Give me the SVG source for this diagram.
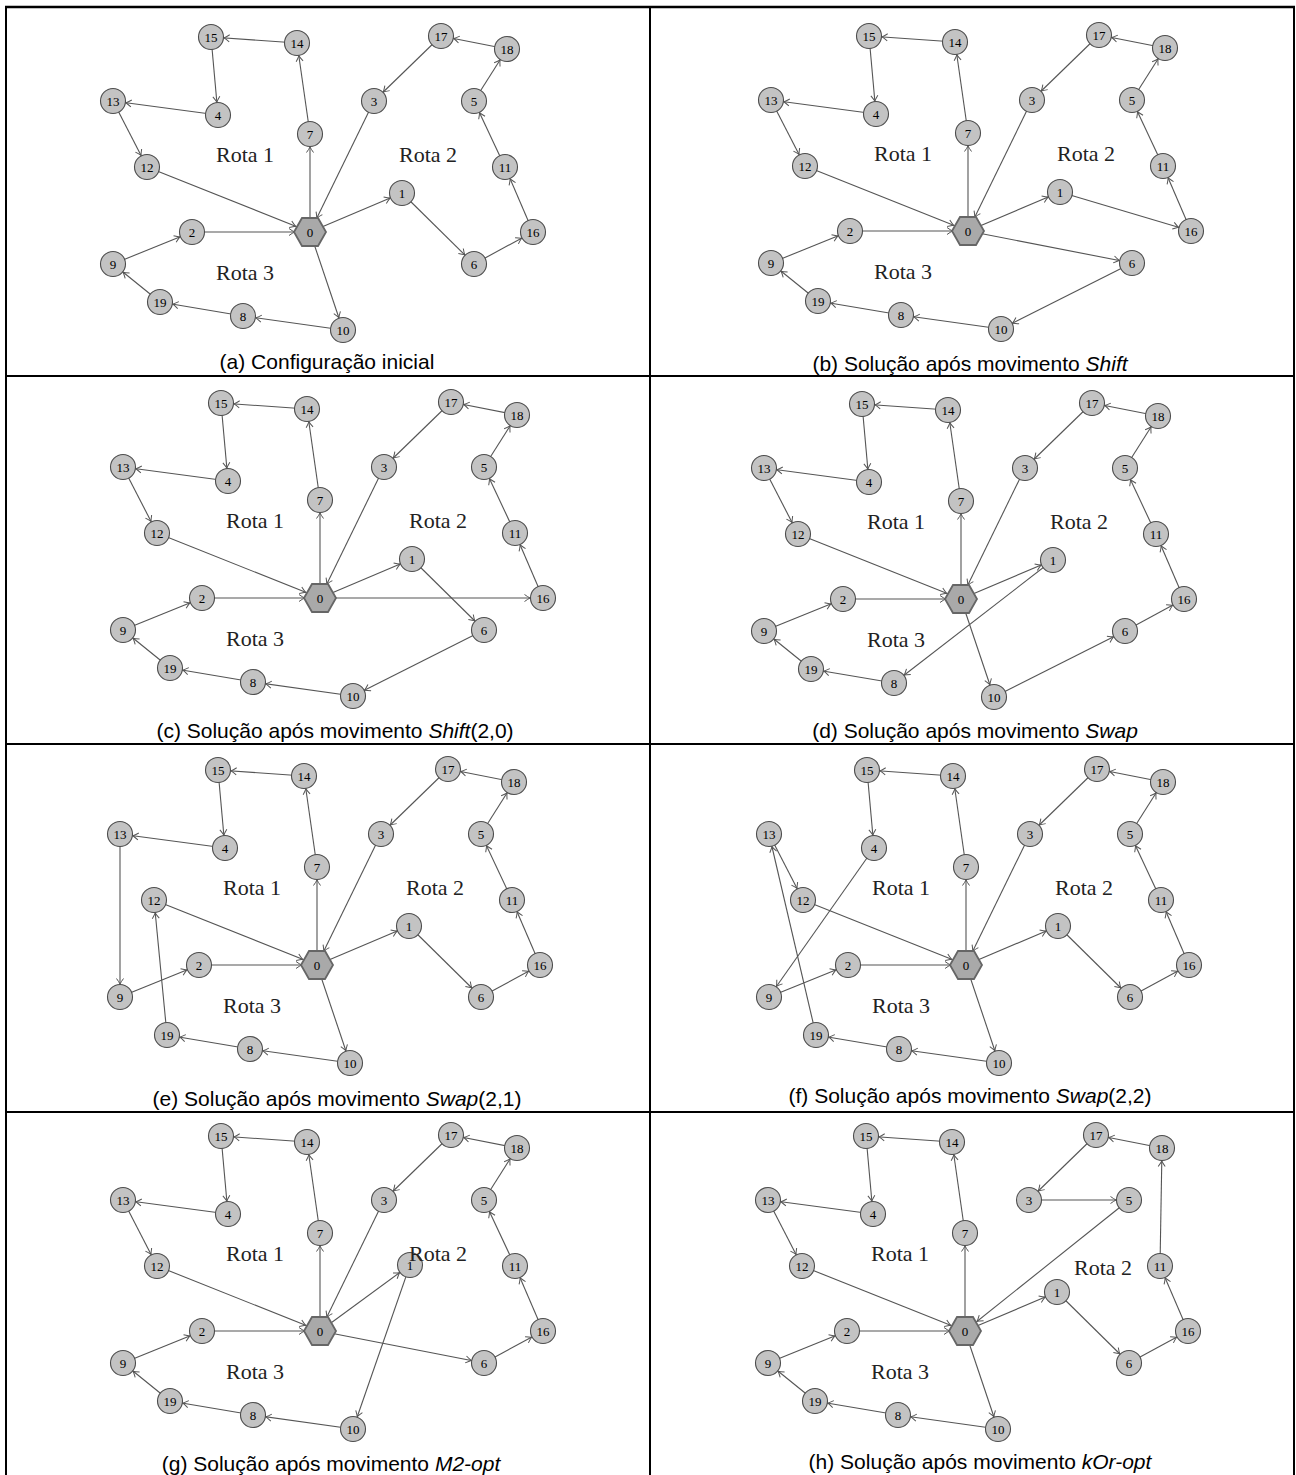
<svg xmlns="http://www.w3.org/2000/svg" width="1296" height="1475" viewBox="0 0 1296 1475">
<style>
.edges line{stroke:#555;stroke-width:1.1;marker-end:url(#arr)}
.edges line.h{marker-end:url(#arrh)}
.node circle{fill:#c3c3c3;stroke:#4d4d4d;stroke-width:1.1}
.depot polygon{fill:#a9a9a9;stroke:#666;stroke-width:1.8}
.node text,.depot text{font-family:"Liberation Serif","DejaVu Serif",serif;font-size:13px;text-anchor:middle;fill:#000}
.rota{font-family:"Liberation Serif","DejaVu Serif",serif;font-size:22px;text-anchor:middle;fill:#222}
.cap{font-family:"Liberation Sans",Arial,sans-serif;font-size:21px;text-anchor:middle;fill:#000}
.frame line{stroke:#000;stroke-width:2}
</style>
<defs>
<marker id="arr" markerUnits="userSpaceOnUse" markerWidth="20" markerHeight="20" refX="13" refY="0" orient="auto" overflow="visible"><path d="M-5.5,-3.5 Q-2,-1 0,0 Q-2,1 -5.5,3.5" fill="none" stroke="#555" stroke-width="1"/></marker>
<marker id="arrh" markerUnits="userSpaceOnUse" markerWidth="20" markerHeight="20" refX="15.5" refY="0" orient="auto" overflow="visible"><path d="M-5.5,-3.5 Q-2,-1 0,0 Q-2,1 -5.5,3.5" fill="none" stroke="#555" stroke-width="1"/></marker>
</defs>
<rect width="1296" height="1475" fill="#fff"/>
<g class="frame">
<line x1="5" y1="7" x2="1295" y2="7" style="stroke-width:2.5"/>
<line x1="6" y1="6" x2="6" y2="1475"/>
<line x1="1294" y1="6" x2="1294" y2="1475"/>
<line x1="650" y1="7" x2="650" y2="1475"/>
<line x1="6" y1="376" x2="1294" y2="376"/>
<line x1="6" y1="744" x2="1294" y2="744"/>
<line x1="6" y1="1112" x2="1294" y2="1112"/>
</g>

<!-- Panel a -->
<g id="panel-a">
<g id="a-edges" class="edges">
<line x1="310" y1="232" x2="310" y2="134"/><line x1="310" y1="134" x2="297" y2="43"/><line x1="297" y1="43" x2="211" y2="37"/><line x1="211" y1="37" x2="218" y2="115"/><line x1="218" y1="115" x2="113" y2="101"/><line x1="113" y1="101" x2="147" y2="167"/><line class="h" x1="147" y1="167" x2="310" y2="232"/>
<line x1="310" y1="232" x2="402" y2="193"/><line x1="402" y1="193" x2="474" y2="264"/><line x1="474" y1="264" x2="533" y2="232"/>
<line x1="533" y1="232" x2="505" y2="167"/><line x1="505" y1="167" x2="474" y2="101"/><line x1="474" y1="101" x2="507" y2="49"/><line x1="507" y1="49" x2="441" y2="36"/><line x1="441" y1="36" x2="374" y2="101"/><line class="h" x1="374" y1="101" x2="310" y2="232"/>
<line x1="310" y1="232" x2="343" y2="330"/>
<line x1="343" y1="330" x2="243" y2="316"/><line x1="243" y1="316" x2="160" y2="302"/><line x1="160" y1="302" x2="113" y2="264"/><line x1="113" y1="264" x2="192" y2="232"/><line class="h" x1="192" y1="232" x2="310" y2="232"/>
</g>
<g id="a-n0" class="depot" transform="translate(310,232)"><polygon points="-16,0 -8,-14 8,-14 16,0 8,14 -8,14"/><text y="4.5">0</text></g>
<g id="a-n1" class="node" transform="translate(402,193)"><circle r="12.5"/><text y="4.5">1</text></g>
<g id="a-n2" class="node" transform="translate(192,232)"><circle r="12.5"/><text y="4.5">2</text></g>
<g id="a-n3" class="node" transform="translate(374,101)"><circle r="12.5"/><text y="4.5">3</text></g>
<g id="a-n4" class="node" transform="translate(218,115)"><circle r="12.5"/><text y="4.5">4</text></g>
<g id="a-n5" class="node" transform="translate(474,101)"><circle r="12.5"/><text y="4.5">5</text></g>
<g id="a-n6" class="node" transform="translate(474,264)"><circle r="12.5"/><text y="4.5">6</text></g>
<g id="a-n7" class="node" transform="translate(310,134)"><circle r="12.5"/><text y="4.5">7</text></g>
<g id="a-n8" class="node" transform="translate(243,316)"><circle r="12.5"/><text y="4.5">8</text></g>
<g id="a-n9" class="node" transform="translate(113,264)"><circle r="12.5"/><text y="4.5">9</text></g>
<g id="a-n10" class="node" transform="translate(343,330)"><circle r="12.5"/><text y="4.5">10</text></g>
<g id="a-n11" class="node" transform="translate(505,167)"><circle r="12.5"/><text y="4.5">11</text></g>
<g id="a-n12" class="node" transform="translate(147,167)"><circle r="12.5"/><text y="4.5">12</text></g>
<g id="a-n13" class="node" transform="translate(113,101)"><circle r="12.5"/><text y="4.5">13</text></g>
<g id="a-n14" class="node" transform="translate(297,43)"><circle r="12.5"/><text y="4.5">14</text></g>
<g id="a-n15" class="node" transform="translate(211,37)"><circle r="12.5"/><text y="4.5">15</text></g>
<g id="a-n16" class="node" transform="translate(533,232)"><circle r="12.5"/><text y="4.5">16</text></g>
<g id="a-n17" class="node" transform="translate(441,36)"><circle r="12.5"/><text y="4.5">17</text></g>
<g id="a-n18" class="node" transform="translate(507,49)"><circle r="12.5"/><text y="4.5">18</text></g>
<g id="a-n19" class="node" transform="translate(160,302)"><circle r="12.5"/><text y="4.5">19</text></g>
<text class="rota" x="245" y="162">Rota 1</text><text class="rota" x="428" y="162">Rota 2</text><text class="rota" x="245" y="280">Rota 3</text>
</g>
<text class="cap" x="327" y="369">(a) Configuração inicial</text>

<!-- Panel b -->
<g id="panel-b" transform="translate(658,-1)">
<g id="b-edges" class="edges">
<line x1="310" y1="232" x2="310" y2="134"/><line x1="310" y1="134" x2="297" y2="43"/><line x1="297" y1="43" x2="211" y2="37"/><line x1="211" y1="37" x2="218" y2="115"/><line x1="218" y1="115" x2="113" y2="101"/><line x1="113" y1="101" x2="147" y2="167"/><line class="h" x1="147" y1="167" x2="310" y2="232"/>
<line x1="310" y1="232" x2="402" y2="193"/><line x1="402" y1="193" x2="533" y2="232"/>
<line x1="533" y1="232" x2="505" y2="167"/><line x1="505" y1="167" x2="474" y2="101"/><line x1="474" y1="101" x2="507" y2="49"/><line x1="507" y1="49" x2="441" y2="36"/><line x1="441" y1="36" x2="374" y2="101"/><line class="h" x1="374" y1="101" x2="310" y2="232"/>
<line x1="310" y1="232" x2="474" y2="264"/><line x1="474" y1="264" x2="343" y2="330"/>
<line x1="343" y1="330" x2="243" y2="316"/><line x1="243" y1="316" x2="160" y2="302"/><line x1="160" y1="302" x2="113" y2="264"/><line x1="113" y1="264" x2="192" y2="232"/><line class="h" x1="192" y1="232" x2="310" y2="232"/>
</g>
<g id="b-n0" class="depot" transform="translate(310,232)"><polygon points="-16,0 -8,-14 8,-14 16,0 8,14 -8,14"/><text y="4.5">0</text></g>
<g id="b-n1" class="node" transform="translate(402,193)"><circle r="12.5"/><text y="4.5">1</text></g>
<g id="b-n2" class="node" transform="translate(192,232)"><circle r="12.5"/><text y="4.5">2</text></g>
<g id="b-n3" class="node" transform="translate(374,101)"><circle r="12.5"/><text y="4.5">3</text></g>
<g id="b-n4" class="node" transform="translate(218,115)"><circle r="12.5"/><text y="4.5">4</text></g>
<g id="b-n5" class="node" transform="translate(474,101)"><circle r="12.5"/><text y="4.5">5</text></g>
<g id="b-n6" class="node" transform="translate(474,264)"><circle r="12.5"/><text y="4.5">6</text></g>
<g id="b-n7" class="node" transform="translate(310,134)"><circle r="12.5"/><text y="4.5">7</text></g>
<g id="b-n8" class="node" transform="translate(243,316)"><circle r="12.5"/><text y="4.5">8</text></g>
<g id="b-n9" class="node" transform="translate(113,264)"><circle r="12.5"/><text y="4.5">9</text></g>
<g id="b-n10" class="node" transform="translate(343,330)"><circle r="12.5"/><text y="4.5">10</text></g>
<g id="b-n11" class="node" transform="translate(505,167)"><circle r="12.5"/><text y="4.5">11</text></g>
<g id="b-n12" class="node" transform="translate(147,167)"><circle r="12.5"/><text y="4.5">12</text></g>
<g id="b-n13" class="node" transform="translate(113,101)"><circle r="12.5"/><text y="4.5">13</text></g>
<g id="b-n14" class="node" transform="translate(297,43)"><circle r="12.5"/><text y="4.5">14</text></g>
<g id="b-n15" class="node" transform="translate(211,37)"><circle r="12.5"/><text y="4.5">15</text></g>
<g id="b-n16" class="node" transform="translate(533,232)"><circle r="12.5"/><text y="4.5">16</text></g>
<g id="b-n17" class="node" transform="translate(441,36)"><circle r="12.5"/><text y="4.5">17</text></g>
<g id="b-n18" class="node" transform="translate(507,49)"><circle r="12.5"/><text y="4.5">18</text></g>
<g id="b-n19" class="node" transform="translate(160,302)"><circle r="12.5"/><text y="4.5">19</text></g>
<text class="rota" x="245" y="162">Rota 1</text><text class="rota" x="428" y="162">Rota 2</text><text class="rota" x="245" y="280">Rota 3</text>
</g>
<text class="cap" x="970" y="371">(b) Solução após movimento <tspan font-style="italic">Shift</tspan></text>

<!-- Panel c -->
<g id="panel-c" transform="translate(10,366)">
<g id="c-edges" class="edges">
<line x1="310" y1="232" x2="310" y2="134"/><line x1="310" y1="134" x2="297" y2="43"/><line x1="297" y1="43" x2="211" y2="37"/><line x1="211" y1="37" x2="218" y2="115"/><line x1="218" y1="115" x2="113" y2="101"/><line x1="113" y1="101" x2="147" y2="167"/><line class="h" x1="147" y1="167" x2="310" y2="232"/>
<line x1="310" y1="232" x2="533" y2="232"/>
<line x1="533" y1="232" x2="505" y2="167"/><line x1="505" y1="167" x2="474" y2="101"/><line x1="474" y1="101" x2="507" y2="49"/><line x1="507" y1="49" x2="441" y2="36"/><line x1="441" y1="36" x2="374" y2="101"/><line class="h" x1="374" y1="101" x2="310" y2="232"/>
<line x1="310" y1="232" x2="402" y2="193"/><line x1="402" y1="193" x2="474" y2="264"/><line x1="474" y1="264" x2="343" y2="330"/>
<line x1="343" y1="330" x2="243" y2="316"/><line x1="243" y1="316" x2="160" y2="302"/><line x1="160" y1="302" x2="113" y2="264"/><line x1="113" y1="264" x2="192" y2="232"/><line class="h" x1="192" y1="232" x2="310" y2="232"/>
</g>
<g id="c-n0" class="depot" transform="translate(310,232)"><polygon points="-16,0 -8,-14 8,-14 16,0 8,14 -8,14"/><text y="4.5">0</text></g>
<g id="c-n1" class="node" transform="translate(402,193)"><circle r="12.5"/><text y="4.5">1</text></g>
<g id="c-n2" class="node" transform="translate(192,232)"><circle r="12.5"/><text y="4.5">2</text></g>
<g id="c-n3" class="node" transform="translate(374,101)"><circle r="12.5"/><text y="4.5">3</text></g>
<g id="c-n4" class="node" transform="translate(218,115)"><circle r="12.5"/><text y="4.5">4</text></g>
<g id="c-n5" class="node" transform="translate(474,101)"><circle r="12.5"/><text y="4.5">5</text></g>
<g id="c-n6" class="node" transform="translate(474,264)"><circle r="12.5"/><text y="4.5">6</text></g>
<g id="c-n7" class="node" transform="translate(310,134)"><circle r="12.5"/><text y="4.5">7</text></g>
<g id="c-n8" class="node" transform="translate(243,316)"><circle r="12.5"/><text y="4.5">8</text></g>
<g id="c-n9" class="node" transform="translate(113,264)"><circle r="12.5"/><text y="4.5">9</text></g>
<g id="c-n10" class="node" transform="translate(343,330)"><circle r="12.5"/><text y="4.5">10</text></g>
<g id="c-n11" class="node" transform="translate(505,167)"><circle r="12.5"/><text y="4.5">11</text></g>
<g id="c-n12" class="node" transform="translate(147,167)"><circle r="12.5"/><text y="4.5">12</text></g>
<g id="c-n13" class="node" transform="translate(113,101)"><circle r="12.5"/><text y="4.5">13</text></g>
<g id="c-n14" class="node" transform="translate(297,43)"><circle r="12.5"/><text y="4.5">14</text></g>
<g id="c-n15" class="node" transform="translate(211,37)"><circle r="12.5"/><text y="4.5">15</text></g>
<g id="c-n16" class="node" transform="translate(533,232)"><circle r="12.5"/><text y="4.5">16</text></g>
<g id="c-n17" class="node" transform="translate(441,36)"><circle r="12.5"/><text y="4.5">17</text></g>
<g id="c-n18" class="node" transform="translate(507,49)"><circle r="12.5"/><text y="4.5">18</text></g>
<g id="c-n19" class="node" transform="translate(160,302)"><circle r="12.5"/><text y="4.5">19</text></g>
<text class="rota" x="245" y="162">Rota 1</text><text class="rota" x="428" y="162">Rota 2</text><text class="rota" x="245" y="280">Rota 3</text>
</g>
<text class="cap" x="335" y="738">(c) Solução após movimento <tspan font-style="italic">Shift</tspan>(2,0)</text>

<!-- Panel d -->
<g id="panel-d" transform="translate(651,367)">
<g id="d-edges" class="edges">
<line x1="310" y1="232" x2="310" y2="134"/><line x1="310" y1="134" x2="297" y2="43"/><line x1="297" y1="43" x2="211" y2="37"/><line x1="211" y1="37" x2="218" y2="115"/><line x1="218" y1="115" x2="113" y2="101"/><line x1="113" y1="101" x2="147" y2="167"/><line class="h" x1="147" y1="167" x2="310" y2="232"/>
<line x1="310" y1="232" x2="343" y2="330"/><line x1="343" y1="330" x2="474" y2="264"/><line x1="474" y1="264" x2="533" y2="232"/>
<line x1="533" y1="232" x2="505" y2="167"/><line x1="505" y1="167" x2="474" y2="101"/><line x1="474" y1="101" x2="507" y2="49"/><line x1="507" y1="49" x2="441" y2="36"/><line x1="441" y1="36" x2="374" y2="101"/><line class="h" x1="374" y1="101" x2="310" y2="232"/>
<line x1="310" y1="232" x2="402" y2="193"/><line x1="402" y1="193" x2="243" y2="316"/>
<line x1="243" y1="316" x2="160" y2="302"/><line x1="160" y1="302" x2="113" y2="264"/><line x1="113" y1="264" x2="192" y2="232"/><line class="h" x1="192" y1="232" x2="310" y2="232"/>
</g>
<g id="d-n0" class="depot" transform="translate(310,232)"><polygon points="-16,0 -8,-14 8,-14 16,0 8,14 -8,14"/><text y="4.5">0</text></g>
<g id="d-n1" class="node" transform="translate(402,193)"><circle r="12.5"/><text y="4.5">1</text></g>
<g id="d-n2" class="node" transform="translate(192,232)"><circle r="12.5"/><text y="4.5">2</text></g>
<g id="d-n3" class="node" transform="translate(374,101)"><circle r="12.5"/><text y="4.5">3</text></g>
<g id="d-n4" class="node" transform="translate(218,115)"><circle r="12.5"/><text y="4.5">4</text></g>
<g id="d-n5" class="node" transform="translate(474,101)"><circle r="12.5"/><text y="4.5">5</text></g>
<g id="d-n6" class="node" transform="translate(474,264)"><circle r="12.5"/><text y="4.5">6</text></g>
<g id="d-n7" class="node" transform="translate(310,134)"><circle r="12.5"/><text y="4.5">7</text></g>
<g id="d-n8" class="node" transform="translate(243,316)"><circle r="12.5"/><text y="4.5">8</text></g>
<g id="d-n9" class="node" transform="translate(113,264)"><circle r="12.5"/><text y="4.5">9</text></g>
<g id="d-n10" class="node" transform="translate(343,330)"><circle r="12.5"/><text y="4.5">10</text></g>
<g id="d-n11" class="node" transform="translate(505,167)"><circle r="12.5"/><text y="4.5">11</text></g>
<g id="d-n12" class="node" transform="translate(147,167)"><circle r="12.5"/><text y="4.5">12</text></g>
<g id="d-n13" class="node" transform="translate(113,101)"><circle r="12.5"/><text y="4.5">13</text></g>
<g id="d-n14" class="node" transform="translate(297,43)"><circle r="12.5"/><text y="4.5">14</text></g>
<g id="d-n15" class="node" transform="translate(211,37)"><circle r="12.5"/><text y="4.5">15</text></g>
<g id="d-n16" class="node" transform="translate(533,232)"><circle r="12.5"/><text y="4.5">16</text></g>
<g id="d-n17" class="node" transform="translate(441,36)"><circle r="12.5"/><text y="4.5">17</text></g>
<g id="d-n18" class="node" transform="translate(507,49)"><circle r="12.5"/><text y="4.5">18</text></g>
<g id="d-n19" class="node" transform="translate(160,302)"><circle r="12.5"/><text y="4.5">19</text></g>
<text class="rota" x="245" y="162">Rota 1</text><text class="rota" x="428" y="162">Rota 2</text><text class="rota" x="245" y="280">Rota 3</text>
</g>
<text class="cap" x="975" y="738">(d) Solução após movimento <tspan font-style="italic">Swap</tspan></text>

<!-- Panel e -->
<g id="panel-e" transform="translate(7,733)">
<g id="e-edges" class="edges">
<line x1="310" y1="232" x2="310" y2="134"/><line x1="310" y1="134" x2="297" y2="43"/><line x1="297" y1="43" x2="211" y2="37"/><line x1="211" y1="37" x2="218" y2="115"/><line x1="218" y1="115" x2="113" y2="101"/><line x1="113" y1="101" x2="113" y2="264"/><line x1="113" y1="264" x2="192" y2="232"/><line class="h" x1="192" y1="232" x2="310" y2="232"/>
<line x1="310" y1="232" x2="402" y2="193"/><line x1="402" y1="193" x2="474" y2="264"/><line x1="474" y1="264" x2="533" y2="232"/>
<line x1="533" y1="232" x2="505" y2="167"/><line x1="505" y1="167" x2="474" y2="101"/><line x1="474" y1="101" x2="507" y2="49"/><line x1="507" y1="49" x2="441" y2="36"/><line x1="441" y1="36" x2="374" y2="101"/><line class="h" x1="374" y1="101" x2="310" y2="232"/>
<line x1="310" y1="232" x2="343" y2="330"/><line x1="343" y1="330" x2="243" y2="316"/><line x1="243" y1="316" x2="160" y2="302"/><line x1="160" y1="302" x2="147" y2="167"/><line class="h" x1="147" y1="167" x2="310" y2="232"/>
</g>
<g id="e-n0" class="depot" transform="translate(310,232)"><polygon points="-16,0 -8,-14 8,-14 16,0 8,14 -8,14"/><text y="4.5">0</text></g>
<g id="e-n1" class="node" transform="translate(402,193)"><circle r="12.5"/><text y="4.5">1</text></g>
<g id="e-n2" class="node" transform="translate(192,232)"><circle r="12.5"/><text y="4.5">2</text></g>
<g id="e-n3" class="node" transform="translate(374,101)"><circle r="12.5"/><text y="4.5">3</text></g>
<g id="e-n4" class="node" transform="translate(218,115)"><circle r="12.5"/><text y="4.5">4</text></g>
<g id="e-n5" class="node" transform="translate(474,101)"><circle r="12.5"/><text y="4.5">5</text></g>
<g id="e-n6" class="node" transform="translate(474,264)"><circle r="12.5"/><text y="4.5">6</text></g>
<g id="e-n7" class="node" transform="translate(310,134)"><circle r="12.5"/><text y="4.5">7</text></g>
<g id="e-n8" class="node" transform="translate(243,316)"><circle r="12.5"/><text y="4.5">8</text></g>
<g id="e-n9" class="node" transform="translate(113,264)"><circle r="12.5"/><text y="4.5">9</text></g>
<g id="e-n10" class="node" transform="translate(343,330)"><circle r="12.5"/><text y="4.5">10</text></g>
<g id="e-n11" class="node" transform="translate(505,167)"><circle r="12.5"/><text y="4.5">11</text></g>
<g id="e-n12" class="node" transform="translate(147,167)"><circle r="12.5"/><text y="4.5">12</text></g>
<g id="e-n13" class="node" transform="translate(113,101)"><circle r="12.5"/><text y="4.5">13</text></g>
<g id="e-n14" class="node" transform="translate(297,43)"><circle r="12.5"/><text y="4.5">14</text></g>
<g id="e-n15" class="node" transform="translate(211,37)"><circle r="12.5"/><text y="4.5">15</text></g>
<g id="e-n16" class="node" transform="translate(533,232)"><circle r="12.5"/><text y="4.5">16</text></g>
<g id="e-n17" class="node" transform="translate(441,36)"><circle r="12.5"/><text y="4.5">17</text></g>
<g id="e-n18" class="node" transform="translate(507,49)"><circle r="12.5"/><text y="4.5">18</text></g>
<g id="e-n19" class="node" transform="translate(160,302)"><circle r="12.5"/><text y="4.5">19</text></g>
<text class="rota" x="245" y="162">Rota 1</text><text class="rota" x="428" y="162">Rota 2</text><text class="rota" x="245" y="280">Rota 3</text>
</g>
<text class="cap" x="337" y="1106">(e) Solução após movimento <tspan font-style="italic">Swap</tspan>(2,1)</text>

<!-- Panel f -->
<g id="panel-f" transform="translate(656,733)">
<g id="f-edges" class="edges">
<line x1="310" y1="232" x2="310" y2="134"/><line x1="310" y1="134" x2="297" y2="43"/><line x1="297" y1="43" x2="211" y2="37"/><line x1="211" y1="37" x2="218" y2="115"/><line x1="218" y1="115" x2="113" y2="264"/><line x1="113" y1="264" x2="192" y2="232"/><line class="h" x1="192" y1="232" x2="310" y2="232"/>
<line x1="310" y1="232" x2="402" y2="193"/><line x1="402" y1="193" x2="474" y2="264"/><line x1="474" y1="264" x2="533" y2="232"/>
<line x1="533" y1="232" x2="505" y2="167"/><line x1="505" y1="167" x2="474" y2="101"/><line x1="474" y1="101" x2="507" y2="49"/><line x1="507" y1="49" x2="441" y2="36"/><line x1="441" y1="36" x2="374" y2="101"/><line class="h" x1="374" y1="101" x2="310" y2="232"/>
<line x1="310" y1="232" x2="343" y2="330"/><line x1="343" y1="330" x2="243" y2="316"/><line x1="243" y1="316" x2="160" y2="302"/><line x1="160" y1="302" x2="113" y2="101"/><line x1="113" y1="101" x2="147" y2="167"/><line class="h" x1="147" y1="167" x2="310" y2="232"/>
</g>
<g id="f-n0" class="depot" transform="translate(310,232)"><polygon points="-16,0 -8,-14 8,-14 16,0 8,14 -8,14"/><text y="4.5">0</text></g>
<g id="f-n1" class="node" transform="translate(402,193)"><circle r="12.5"/><text y="4.5">1</text></g>
<g id="f-n2" class="node" transform="translate(192,232)"><circle r="12.5"/><text y="4.5">2</text></g>
<g id="f-n3" class="node" transform="translate(374,101)"><circle r="12.5"/><text y="4.5">3</text></g>
<g id="f-n4" class="node" transform="translate(218,115)"><circle r="12.5"/><text y="4.5">4</text></g>
<g id="f-n5" class="node" transform="translate(474,101)"><circle r="12.5"/><text y="4.5">5</text></g>
<g id="f-n6" class="node" transform="translate(474,264)"><circle r="12.5"/><text y="4.5">6</text></g>
<g id="f-n7" class="node" transform="translate(310,134)"><circle r="12.5"/><text y="4.5">7</text></g>
<g id="f-n8" class="node" transform="translate(243,316)"><circle r="12.5"/><text y="4.5">8</text></g>
<g id="f-n9" class="node" transform="translate(113,264)"><circle r="12.5"/><text y="4.5">9</text></g>
<g id="f-n10" class="node" transform="translate(343,330)"><circle r="12.5"/><text y="4.5">10</text></g>
<g id="f-n11" class="node" transform="translate(505,167)"><circle r="12.5"/><text y="4.5">11</text></g>
<g id="f-n12" class="node" transform="translate(147,167)"><circle r="12.5"/><text y="4.5">12</text></g>
<g id="f-n13" class="node" transform="translate(113,101)"><circle r="12.5"/><text y="4.5">13</text></g>
<g id="f-n14" class="node" transform="translate(297,43)"><circle r="12.5"/><text y="4.5">14</text></g>
<g id="f-n15" class="node" transform="translate(211,37)"><circle r="12.5"/><text y="4.5">15</text></g>
<g id="f-n16" class="node" transform="translate(533,232)"><circle r="12.5"/><text y="4.5">16</text></g>
<g id="f-n17" class="node" transform="translate(441,36)"><circle r="12.5"/><text y="4.5">17</text></g>
<g id="f-n18" class="node" transform="translate(507,49)"><circle r="12.5"/><text y="4.5">18</text></g>
<g id="f-n19" class="node" transform="translate(160,302)"><circle r="12.5"/><text y="4.5">19</text></g>
<text class="rota" x="245" y="162">Rota 1</text><text class="rota" x="428" y="162">Rota 2</text><text class="rota" x="245" y="280">Rota 3</text>
</g>
<text class="cap" x="970" y="1103">(f) Solução após movimento <tspan font-style="italic">Swap</tspan>(2,2)</text>

<!-- Panel g -->
<g id="panel-g" transform="translate(10,1099)">
<g id="g-edges" class="edges">
<line x1="310" y1="232" x2="310" y2="134"/><line x1="310" y1="134" x2="297" y2="43"/><line x1="297" y1="43" x2="211" y2="37"/><line x1="211" y1="37" x2="218" y2="115"/><line x1="218" y1="115" x2="113" y2="101"/><line x1="113" y1="101" x2="147" y2="167"/><line class="h" x1="147" y1="167" x2="310" y2="232"/>
<line x1="310" y1="232" x2="474" y2="264"/><line x1="474" y1="264" x2="533" y2="232"/>
<line x1="533" y1="232" x2="505" y2="167"/><line x1="505" y1="167" x2="474" y2="101"/><line x1="474" y1="101" x2="507" y2="49"/><line x1="507" y1="49" x2="441" y2="36"/><line x1="441" y1="36" x2="374" y2="101"/><line class="h" x1="374" y1="101" x2="310" y2="232"/>
<line x1="310" y1="232" x2="400" y2="166"/><line x1="400" y1="166" x2="343" y2="330"/>
<line x1="343" y1="330" x2="243" y2="316"/><line x1="243" y1="316" x2="160" y2="302"/><line x1="160" y1="302" x2="113" y2="264"/><line x1="113" y1="264" x2="192" y2="232"/><line class="h" x1="192" y1="232" x2="310" y2="232"/>
</g>
<g id="g-n0" class="depot" transform="translate(310,232)"><polygon points="-16,0 -8,-14 8,-14 16,0 8,14 -8,14"/><text y="4.5">0</text></g>
<g id="g-n1" class="node" transform="translate(400,166)"><circle r="12.5"/><text y="4.5">1</text></g>
<g id="g-n2" class="node" transform="translate(192,232)"><circle r="12.5"/><text y="4.5">2</text></g>
<g id="g-n3" class="node" transform="translate(374,101)"><circle r="12.5"/><text y="4.5">3</text></g>
<g id="g-n4" class="node" transform="translate(218,115)"><circle r="12.5"/><text y="4.5">4</text></g>
<g id="g-n5" class="node" transform="translate(474,101)"><circle r="12.5"/><text y="4.5">5</text></g>
<g id="g-n6" class="node" transform="translate(474,264)"><circle r="12.5"/><text y="4.5">6</text></g>
<g id="g-n7" class="node" transform="translate(310,134)"><circle r="12.5"/><text y="4.5">7</text></g>
<g id="g-n8" class="node" transform="translate(243,316)"><circle r="12.5"/><text y="4.5">8</text></g>
<g id="g-n9" class="node" transform="translate(113,264)"><circle r="12.5"/><text y="4.5">9</text></g>
<g id="g-n10" class="node" transform="translate(343,330)"><circle r="12.5"/><text y="4.5">10</text></g>
<g id="g-n11" class="node" transform="translate(505,167)"><circle r="12.5"/><text y="4.5">11</text></g>
<g id="g-n12" class="node" transform="translate(147,167)"><circle r="12.5"/><text y="4.5">12</text></g>
<g id="g-n13" class="node" transform="translate(113,101)"><circle r="12.5"/><text y="4.5">13</text></g>
<g id="g-n14" class="node" transform="translate(297,43)"><circle r="12.5"/><text y="4.5">14</text></g>
<g id="g-n15" class="node" transform="translate(211,37)"><circle r="12.5"/><text y="4.5">15</text></g>
<g id="g-n16" class="node" transform="translate(533,232)"><circle r="12.5"/><text y="4.5">16</text></g>
<g id="g-n17" class="node" transform="translate(441,36)"><circle r="12.5"/><text y="4.5">17</text></g>
<g id="g-n18" class="node" transform="translate(507,49)"><circle r="12.5"/><text y="4.5">18</text></g>
<g id="g-n19" class="node" transform="translate(160,302)"><circle r="12.5"/><text y="4.5">19</text></g>
<text class="rota" x="245" y="162">Rota 1</text><text class="rota" x="428" y="162">Rota 2</text><text class="rota" x="245" y="280">Rota 3</text>
</g>
<text class="cap" x="331" y="1471">(g) Solução após movimento <tspan font-style="italic">M2-opt</tspan></text>

<!-- Panel h -->
<g id="panel-h" transform="translate(655,1099)">
<g id="h-edges" class="edges">
<line x1="310" y1="232" x2="310" y2="134"/><line x1="310" y1="134" x2="297" y2="43"/><line x1="297" y1="43" x2="211" y2="37"/><line x1="211" y1="37" x2="218" y2="115"/><line x1="218" y1="115" x2="113" y2="101"/><line x1="113" y1="101" x2="147" y2="167"/><line class="h" x1="147" y1="167" x2="310" y2="232"/>
<line x1="310" y1="232" x2="402" y2="193"/><line x1="402" y1="193" x2="474" y2="264"/><line x1="474" y1="264" x2="533" y2="232"/>
<line x1="533" y1="232" x2="505" y2="167"/><line x1="505" y1="167" x2="507" y2="49"/><line x1="507" y1="49" x2="441" y2="36"/><line x1="441" y1="36" x2="374" y2="101"/><line x1="374" y1="101" x2="474" y2="101"/><line class="h" x1="474" y1="101" x2="310" y2="232"/>
<line x1="310" y1="232" x2="343" y2="330"/>
<line x1="343" y1="330" x2="243" y2="316"/><line x1="243" y1="316" x2="160" y2="302"/><line x1="160" y1="302" x2="113" y2="264"/><line x1="113" y1="264" x2="192" y2="232"/><line class="h" x1="192" y1="232" x2="310" y2="232"/>
</g>
<g id="h-n0" class="depot" transform="translate(310,232)"><polygon points="-16,0 -8,-14 8,-14 16,0 8,14 -8,14"/><text y="4.5">0</text></g>
<g id="h-n1" class="node" transform="translate(402,193)"><circle r="12.5"/><text y="4.5">1</text></g>
<g id="h-n2" class="node" transform="translate(192,232)"><circle r="12.5"/><text y="4.5">2</text></g>
<g id="h-n3" class="node" transform="translate(374,101)"><circle r="12.5"/><text y="4.5">3</text></g>
<g id="h-n4" class="node" transform="translate(218,115)"><circle r="12.5"/><text y="4.5">4</text></g>
<g id="h-n5" class="node" transform="translate(474,101)"><circle r="12.5"/><text y="4.5">5</text></g>
<g id="h-n6" class="node" transform="translate(474,264)"><circle r="12.5"/><text y="4.5">6</text></g>
<g id="h-n7" class="node" transform="translate(310,134)"><circle r="12.5"/><text y="4.5">7</text></g>
<g id="h-n8" class="node" transform="translate(243,316)"><circle r="12.5"/><text y="4.5">8</text></g>
<g id="h-n9" class="node" transform="translate(113,264)"><circle r="12.5"/><text y="4.5">9</text></g>
<g id="h-n10" class="node" transform="translate(343,330)"><circle r="12.5"/><text y="4.5">10</text></g>
<g id="h-n11" class="node" transform="translate(505,167)"><circle r="12.5"/><text y="4.5">11</text></g>
<g id="h-n12" class="node" transform="translate(147,167)"><circle r="12.5"/><text y="4.5">12</text></g>
<g id="h-n13" class="node" transform="translate(113,101)"><circle r="12.5"/><text y="4.5">13</text></g>
<g id="h-n14" class="node" transform="translate(297,43)"><circle r="12.5"/><text y="4.5">14</text></g>
<g id="h-n15" class="node" transform="translate(211,37)"><circle r="12.5"/><text y="4.5">15</text></g>
<g id="h-n16" class="node" transform="translate(533,232)"><circle r="12.5"/><text y="4.5">16</text></g>
<g id="h-n17" class="node" transform="translate(441,36)"><circle r="12.5"/><text y="4.5">17</text></g>
<g id="h-n18" class="node" transform="translate(507,49)"><circle r="12.5"/><text y="4.5">18</text></g>
<g id="h-n19" class="node" transform="translate(160,302)"><circle r="12.5"/><text y="4.5">19</text></g>
<text class="rota" x="245" y="162">Rota 1</text><text class="rota" x="448" y="176">Rota 2</text><text class="rota" x="245" y="280">Rota 3</text>
</g>
<text class="cap" x="980" y="1469">(h) Solução após movimento <tspan font-style="italic">kOr-opt</tspan></text>
</svg>
